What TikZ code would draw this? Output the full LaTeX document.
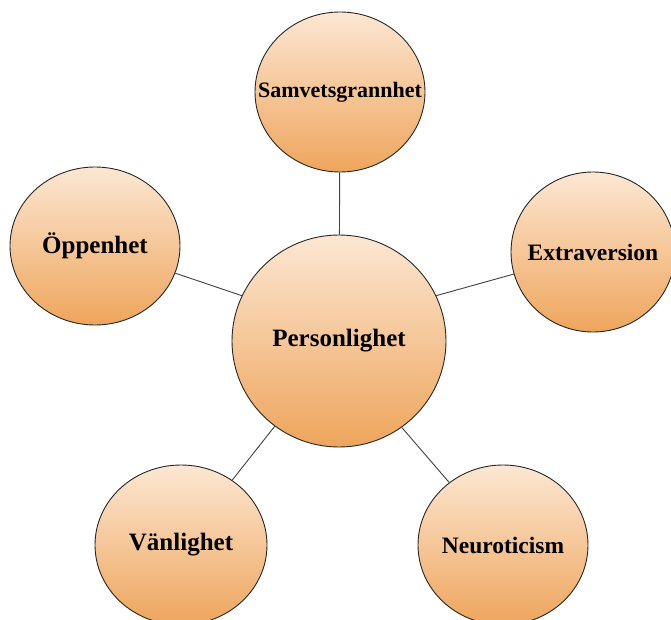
\documentclass[tikz,border=0pt]{standalone}
\usepackage{fontspec}
\setmainfont{Liberation Serif}
\usetikzlibrary{shapes.geometric}
\definecolor{peachtop}{HTML}{FCE7D3}
\definecolor{peachbot}{HTML}{EEA55C}
\newcommand{\etiq}[1]{\makebox[0pt]{#1}}
\begin{document}
\begin{tikzpicture}[x=1pt,y=-1pt]
    \useasboundingbox (0,0) rectangle (671,620);
    %%%%%%%%%%%%%%%%%%%%%%%%%%%%%%%%%%%%%% Styles
    \tikzstyle{bulle}=[ellipse,draw=black!85,line width=0.9pt,inner sep=0pt,top color=peachtop,bottom color=peachbot,font=\bfseries\fontsize{25}{29}\selectfont]
    \tikzstyle{lien}=[-,draw=black!75,line width=0.9pt]

    %%%%%%%%%%%%%%%%%%%%%%%%%%%%%%%%%%%%%% Bulles
    \node[bulle,minimum width=214pt,minimum height=212pt] (pers) at (339,341){\etiq{Personlighet}};
    \node[bulle,minimum width=170pt,minimum height=160pt,font=\bfseries\fontsize{22}{26}\selectfont] (samv) at (340,92){\etiq{Samvetsgrannhet}};
    \node[bulle,minimum width=170pt,minimum height=158pt] (oppen) at (95,246){\etiq{Öppenhet}};
    \node[bulle,minimum width=164pt,minimum height=160pt,font=\bfseries\fontsize{23.5}{27}\selectfont] (extra) at (593,252){\etiq{Extraversion}};
    \node[bulle,minimum width=172pt,minimum height=160pt] (vanl) at (181,545){\etiq{Vänlighet}};
    \node[bulle,minimum width=170pt,minimum height=160pt,font=\bfseries\fontsize{23.5}{27}\selectfont] (neuro) at (503,545){\etiq{Neuroticism}};

    %%%%%%%%%%%%%%%%%%%%%%%%%%%%%%%%%%%%%% Liens
    \draw[lien] (samv) -- (pers);
    \draw[lien] (pers.155) -- (oppen);
    \draw[lien] (pers.25) -- (extra);
    \draw[lien] (pers.233) -- (vanl);
    \draw[lien] (pers.306) -- (neuro);
\end{tikzpicture}
\end{document}
